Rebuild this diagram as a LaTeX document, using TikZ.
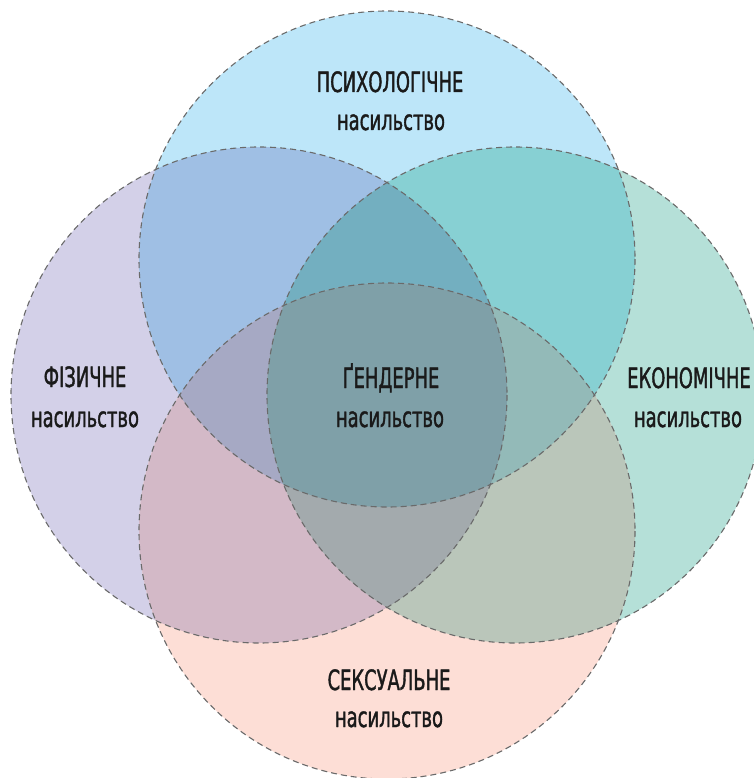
\documentclass[tikz,border=0pt]{standalone}
\usepackage{fontspec}
\setmainfont{DejaVu Sans}[FakeStretch=0.64,FakeBold=1.3]
\definecolor{cT}{HTML}{BDE6F9}
\definecolor{cL}{HTML}{D3D0E8}
\definecolor{cR}{HTML}{B5E0D8}
\definecolor{cB}{HTML}{FDDED6}
\definecolor{cTL}{HTML}{9FBFE4}
\definecolor{cTR}{HTML}{87D0D3}
\definecolor{cLB}{HTML}{D3B9C7}
\definecolor{cRB}{HTML}{BAC6BA}
\definecolor{cTLR}{HTML}{73AFC0}
\definecolor{cTLB}{HTML}{A6A9C4}
\definecolor{cTRB}{HTML}{93BAB8}
\definecolor{cLRB}{HTML}{A3AAAD}
\definecolor{cALL}{HTML}{7FA0A8}
\definecolor{edgegray}{HTML}{6A6A6A}
\definecolor{txt}{HTML}{1A1A1A}
\tikzset{
  rim/.style={draw=edgegray, line width=1.1pt, dash pattern=on 6pt off 4pt},
  labcaps/.style={anchor=base, inner sep=0pt, text=txt, font=\fontsize{28}{30}\selectfont},
  lablow/.style={anchor=base, inner sep=0pt, text=txt, font=\fontsize{28}{30}\selectfont},
}
\begin{document}
\begin{tikzpicture}[x=1pt,y=-1pt]
\useasboundingbox (0,0) rectangle (753,778);
\def\rr{248}
\coordinate (T) at (387,259);
\coordinate (L) at (259,395);
\coordinate (R) at (515,395);
\coordinate (B) at (387,531);
% single circles
\fill[cL] (L) circle (\rr);
\fill[cR] (R) circle (\rr);
\fill[cT] (T) circle (\rr);
\fill[cB] (B) circle (\rr);
% pairs
\begin{scope}\clip (T) circle (\rr); \fill[cTL] (L) circle (\rr);\end{scope}
\begin{scope}\clip (T) circle (\rr); \fill[cTR] (R) circle (\rr);\end{scope}
\begin{scope}\clip (L) circle (\rr); \fill[cLB] (B) circle (\rr);\end{scope}
\begin{scope}\clip (R) circle (\rr); \fill[cRB] (B) circle (\rr);\end{scope}
% triples
\begin{scope}\clip (T) circle (\rr); \clip (L) circle (\rr); \fill[cTLR] (R) circle (\rr);\end{scope}
\begin{scope}\clip (T) circle (\rr); \clip (L) circle (\rr); \fill[cTLB] (B) circle (\rr);\end{scope}
\begin{scope}\clip (T) circle (\rr); \clip (R) circle (\rr); \fill[cTRB] (B) circle (\rr);\end{scope}
\begin{scope}\clip (L) circle (\rr); \clip (R) circle (\rr); \fill[cLRB] (B) circle (\rr);\end{scope}
% all four
\begin{scope}\clip (T) circle (\rr); \clip (L) circle (\rr); \clip (R) circle (\rr); \fill[cALL] (B) circle (\rr);\end{scope}
% outlines
\draw[rim] (T) circle (\rr);
\draw[rim] (L) circle (\rr);
\draw[rim] (R) circle (\rr);
\draw[rim] (B) circle (\rr);
% labels
\node[labcaps] (tcap) at (390,92) {ПСИХОЛОГІЧНЕ};
\node[lablow] (tlow) at (391,130) {насильство};
\node[labcaps] (ccap) at (391,388) {ҐЕНДЕРНЕ};
\node[lablow] (clow) at (390,427) {насильство};
\node[labcaps] (lcap) at (85,387) {ФІЗИЧНЕ};
\node[lablow] (llow) at (85,427) {насильство};
\node[labcaps] (rcap) at (689,388) {ЕКОНОМІЧНЕ};
\node[lablow] (rlow) at (688,427) {насильство};
\node[labcaps] (bcap) at (389,690) {СЕКСУАЛЬНЕ};
\node[lablow] (blow) at (389,727) {насильство};
\end{tikzpicture}
\end{document}
